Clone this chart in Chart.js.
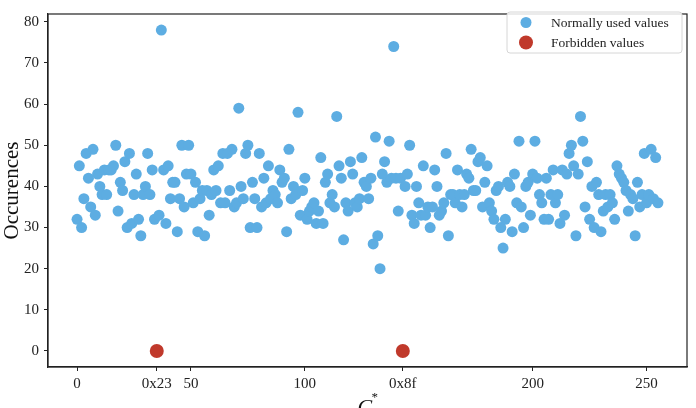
<!DOCTYPE html>
<html>
<head>
<meta charset="utf-8">
<script src="https://cdn.jsdelivr.net/npm/chart.js@4"></script>
<style>
html, body { margin: 0; padding: 0; background: #fff; }
#wrap { width: 696px; height: 408px; }
</style>
</head>
<body>
<div id="wrap"><canvas id="myChart" width="696" height="408"></canvas></div>
<script>
// occurences of each byte value 0..255 (0 at the forbidden ones)
const occurences = [
  32, 45, 30, 37, 48, 42, 35, 49, 33, 43,
  40, 38, 44, 38, 44, 44, 45, 50, 34, 41,
  39, 46, 30, 48, 31, 38, 43, 32, 28, 38,
  40, 48, 38, 44, 32, 0, 33, 78, 44, 31,
  45, 37, 41, 41, 29, 37, 50, 35, 43, 50,
  43, 36, 41, 29, 37, 39, 28, 39, 33, 38,
  44, 39, 45, 36, 48, 36, 48, 39, 49, 35,
  36, 59, 40, 37, 48, 50, 30, 41, 37, 30,
  48, 35, 42, 36, 45, 37, 39, 38, 36, 44,
  41, 42, 29, 49, 37, 40, 38, 58, 33, 39,
  42, 32, 34, 35, 36, 31, 34, 47, 31, 41,
  43, 36, 38, 35, 57, 45, 42, 27, 36, 34,
  46, 43, 36, 35, 37, 47, 41, 40, 37, 42,
  26, 52, 28, 20, 43, 46, 41, 51, 42, 74,
  42, 34, 42, 0, 40, 43, 50, 33, 31, 40,
  36, 33, 45, 33, 35, 30, 35, 44, 40, 33,
  34, 36, 48, 28, 38, 38, 36, 44, 38, 35,
  38, 43, 42, 49, 39, 39, 46, 47, 35, 41,
  45, 36, 34, 32, 39, 40, 30, 25, 32, 41,
  40, 29, 43, 36, 51, 35, 30, 40, 41, 33,
  43, 51, 42, 38, 36, 32, 42, 32, 38, 44,
  36, 38, 31, 44, 33, 43, 48, 50, 45, 28,
  43, 57, 51, 35, 46, 32, 40, 30, 41, 38,
  29, 34, 38, 35, 38, 36, 32, 45, 43, 42,
  41, 39, 34, 38, 37, 28, 41, 35, 38, 48,
  36, 38, 49, 37, 47, 36
];
const forbidden = [0x23, 0x8f];

const xTicks = [0, 35, 50, 100, 143, 200, 250];
const xTickLabels = ['0', '0x23', '50', '100', '0x8f', '200', '250'];
const yTicks = [0, 10, 20, 30, 40, 50, 60, 70, 80];

const normalPts = [];
const forbiddenPts = [];
for (var i = 0; i < occurences.length; i++) {
  if (forbidden.indexOf(i) >= 0) {
    forbiddenPts.push({x: i, y: occurences[i]});
  } else {
    normalPts.push({x: i, y: occurences[i]});
  }
}

const serif = '"Liberation Serif", "DejaVu Serif", serif';

// full box around the plot, like matplotlib spines
const framePlugin = {
  id: 'frame',
  afterDraw(chart) {
    const ctx = chart.ctx, a = chart.chartArea;
    ctx.save();
    ctx.strokeStyle = '#222';
    ctx.lineWidth = 1.2;
    ctx.strokeRect(a.left, a.top, a.right - a.left, a.bottom - a.top);

    // x axis title C*_0 (cut by the bottom edge)
    const cx = (a.left + a.right) / 2;
    ctx.fillStyle = '#111';
    ctx.textBaseline = 'alphabetic';
    ctx.font = 'italic 22px ' + serif;
    ctx.fillText('C', cx - 10, 414);
    ctx.font = '13px ' + serif;
    ctx.fillText('*', cx + 4, 401);
    ctx.fillText('0', cx + 4, 417);

    // legend box in the upper right corner
    const lx = 507, ly = 12, lw = 175, lh = 41;
    ctx.beginPath();
    ctx.roundRect(lx, ly, lw, lh, 3);
    ctx.fillStyle = 'rgba(255,255,255,0.85)';
    ctx.fill();
    ctx.strokeStyle = '#d6d6d6';
    ctx.lineWidth = 1;
    ctx.stroke();
    const rows = [22.5, 42.5];
    chart.data.datasets.forEach(function(ds, k) {
      ctx.beginPath();
      ctx.arc(526, ly + rows[k] - 12 + 0, ds.pointRadius, 0, Math.PI * 2);
      ctx.fillStyle = ds.backgroundColor;
      ctx.fill();
      ctx.fillStyle = '#222';
      ctx.font = '13.5px ' + serif;
      ctx.textBaseline = 'middle';
      ctx.fillText(ds.label, 551, ly + rows[k] - 11);
    });
    ctx.restore();
  }
};

const data = {
  datasets: [{
    label: 'Normally used values',
    data: normalPts,
    backgroundColor: '#5DADE2',
    borderWidth: 0,
    pointRadius: 5.5,
    pointHoverRadius: 5.5
  }, {
    label: 'Forbidden values',
    data: forbiddenPts,
    backgroundColor: '#C0392B',
    borderWidth: 0,
    pointRadius: 7,
    pointHoverRadius: 7
  }]
};

const config = {
  type: 'scatter',
  data: data,
  options: {
    responsive: false,
    animation: false,
    layout: { padding: { top: 5, right: 9, left: 0, bottom: 0 } },
    plugins: {
      legend: { display: false },
      tooltip: { enabled: false }
    },
    scales: {
      x: {
        type: 'linear',
        min: -12.75,
        max: 267.75,
        afterFit: function(s) { s.height = 41; },
        afterBuildTicks: function(s) { s.ticks = xTicks.map(function(v) { return {value: v}; }); },
        grid: { drawOnChartArea: false, drawTicks: true, tickLength: 4, color: '#222' },
        border: { display: true, color: '#222', width: 1.2 },
        ticks: {
          autoSkip: false,
          maxRotation: 0,
          padding: 4,
          color: '#222',
          font: { family: serif, size: 15 },
          callback: function(v) { return xTickLabels[xTicks.indexOf(v)]; }
        }
      },
      y: {
        min: -3.9,
        max: 81.9,
        afterFit: function(s) { s.width = 48; },
        afterBuildTicks: function(s) { s.ticks = yTicks.map(function(v) { return {value: v}; }); },
        grid: { drawOnChartArea: false, drawTicks: true, tickLength: 4, color: '#222' },
        border: { display: true, color: '#222', width: 1.2 },
        title: {
          display: true,
          text: 'Occurences',
          color: '#111',
          font: { family: serif, size: 21 },
          padding: { top: 0, bottom: 0 }
        },
        ticks: {
          padding: 5,
          color: '#222',
          font: { family: serif, size: 15 }
        }
      }
    }
  },
  plugins: [framePlugin]
};

const myChart = new Chart(document.getElementById('myChart').getContext('2d'), config);
</script>
</body>
</html>
